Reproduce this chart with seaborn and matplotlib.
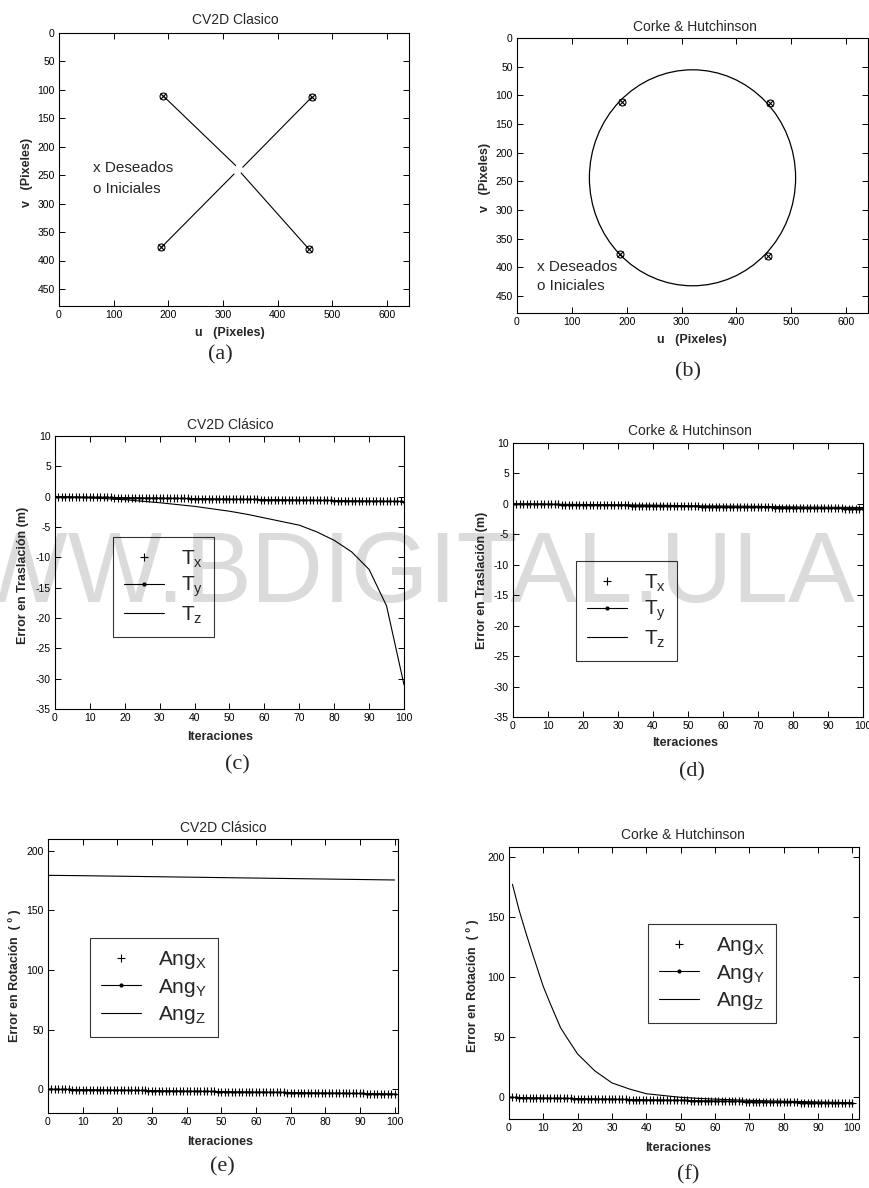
import matplotlib
matplotlib.use("Agg")
import matplotlib.pyplot as plt
from matplotlib.lines import Line2D
from matplotlib.patches import Ellipse
import seaborn as sns

# ---------------- data ----------------
# image-plane points (u, v) in pixels: initial and desired positions coincide
pts_u = [191, 462, 187, 457]
pts_v = [111, 113, 377, 380]
# classic IBVS: each point heads straight for the image centre
traj_end_u = [323, 336, 320, 333]
traj_end_v = [233, 236, 248, 246]
# Corke & Hutchinson: points travel around a circle
circ_center = (320, 244)
circ_w, circ_h = 376, 377

iters = list(range(101))

# translation error, x and y components (overlapping), panels c and d
t_xy = [0.00, -0.01, -0.02, -0.02, -0.03, -0.04, -0.05, -0.06, -0.06, -0.07,
        -0.08, -0.09, -0.10, -0.10, -0.11, -0.12, -0.13, -0.14, -0.14, -0.15,
        -0.16, -0.17, -0.18, -0.18, -0.19, -0.20, -0.21, -0.22, -0.22, -0.23,
        -0.24, -0.25, -0.26, -0.26, -0.27, -0.28, -0.29, -0.30, -0.30, -0.31,
        -0.32, -0.33, -0.34, -0.34, -0.35, -0.36, -0.37, -0.38, -0.38, -0.39,
        -0.40, -0.41, -0.42, -0.42, -0.43, -0.44, -0.45, -0.46, -0.46, -0.47,
        -0.48, -0.49, -0.50, -0.50, -0.51, -0.52, -0.53, -0.54, -0.54, -0.55,
        -0.56, -0.57, -0.58, -0.58, -0.59, -0.60, -0.61, -0.62, -0.62, -0.63,
        -0.64, -0.65, -0.66, -0.66, -0.67, -0.68, -0.69, -0.70, -0.70, -0.71,
        -0.72, -0.73, -0.74, -0.74, -0.75, -0.76, -0.77, -0.78, -0.78, -0.79,
        -0.80]

# z translation, classic IBVS (camera retreat)
tz_c_it = [0, 5, 10, 15, 20, 25, 30, 35, 40, 45, 50, 55, 60, 65, 70, 75, 80, 85, 90, 95, 100]
tz_c = [0.0, -0.1, -0.2, -0.35, -0.5, -0.75, -1.0, -1.3, -1.6, -2.0, -2.4, -2.9,
        -3.5, -4.1, -4.7, -5.8, -7.2, -9.1, -12.0, -18.0, -31.0]
# z translation, Corke & Hutchinson
tz_d_it = [0, 10, 20, 30, 40, 50, 60, 70, 80, 90, 100]
tz_d = [0.0, -0.05, -0.1, -0.15, -0.2, -0.3, -0.35, -0.4, -0.5, -0.55, -0.6]

# rotation error, x and y components, panel e
r_xy_e = [0.0, 0.0, -0.1, -0.1, -0.2, -0.2, -0.2, -0.3, -0.3, -0.4,
          -0.4, -0.4, -0.5, -0.5, -0.6, -0.6, -0.6, -0.7, -0.7, -0.8,
          -0.8, -0.8, -0.9, -0.9, -1.0, -1.0, -1.0, -1.1, -1.1, -1.2,
          -1.2, -1.2, -1.3, -1.3, -1.4, -1.4, -1.4, -1.5, -1.5, -1.6,
          -1.6, -1.6, -1.7, -1.7, -1.8, -1.8, -1.8, -1.9, -1.9, -2.0,
          -2.0, -2.0, -2.1, -2.1, -2.2, -2.2, -2.2, -2.3, -2.3, -2.4,
          -2.4, -2.4, -2.5, -2.5, -2.6, -2.6, -2.6, -2.7, -2.7, -2.8,
          -2.8, -2.8, -2.9, -2.9, -3.0, -3.0, -3.0, -3.1, -3.1, -3.2,
          -3.2, -3.2, -3.3, -3.3, -3.4, -3.4, -3.4, -3.5, -3.5, -3.6,
          -3.6, -3.6, -3.7, -3.7, -3.8, -3.8, -3.8, -3.9, -3.9, -4.0,
          -4.0]
rz_e_it = [0, 10, 20, 30, 40, 50, 60, 70, 80, 90, 100]
rz_e = [179.5, 179.2, 178.8, 178.4, 178.0, 177.6, 177.2, 176.8, 176.4, 176.0, 175.6]

# rotation error, panel f
r_xy_f = [0.0, -0.1, -0.1, -0.2, -0.2, -0.3, -0.3, -0.4, -0.4, -0.5,
          -0.5, -0.6, -0.6, -0.7, -0.7, -0.8, -0.8, -0.9, -0.9, -1.0,
          -1.0, -1.1, -1.1, -1.2, -1.2, -1.3, -1.3, -1.4, -1.4, -1.5,
          -1.5, -1.6, -1.6, -1.7, -1.7, -1.8, -1.8, -1.9, -1.9, -2.0,
          -2.0, -2.1, -2.1, -2.2, -2.2, -2.3, -2.3, -2.4, -2.4, -2.5,
          -2.5, -2.6, -2.6, -2.7, -2.7, -2.8, -2.8, -2.9, -2.9, -3.0,
          -3.0, -3.1, -3.1, -3.2, -3.2, -3.3, -3.3, -3.4, -3.4, -3.5,
          -3.5, -3.6, -3.6, -3.7, -3.7, -3.8, -3.8, -3.9, -3.9, -4.0,
          -4.0, -4.1, -4.1, -4.2, -4.2, -4.3, -4.3, -4.4, -4.4, -4.5,
          -4.5, -4.6, -4.6, -4.7, -4.7, -4.8, -4.8, -4.9, -4.9, -5.0,
          -5.0]
rz_f_it = [1, 3, 5, 7, 10, 12, 15, 17, 20, 25, 30, 35, 40, 45, 50, 55, 60, 70, 80, 90, 100]
rz_f = [177, 155, 136, 118, 92, 78, 58, 49, 36, 22, 12, 7, 3, 1.5, 0.0, -0.8,
        -1.5, -2.5, -3.2, -3.8, -4.5]

titles = ["CV2D Clasico", "Corke & Hutchinson", "CV2D Clásico",
          "Corke & Hutchinson", "CV2D Clásico", "Corke & Hutchinson"]
letters = ["(a)", "(b)", "(c)", "(d)", "(e)", "(f)"]
trans_labels = ["T$_x$", "T$_y$", "T$_z$"]
rot_labels = ["Ang$_X$", "Ang$_Y$", "Ang$_Z$"]

# ---------------- style ----------------
sns.set_style("ticks")
plt.rcParams["font.family"] = ["Liberation Sans", "DejaVu Sans"]
plt.rcParams["mathtext.default"] = "regular"
plt.rcParams["axes.unicode_minus"] = False

W, H = 870, 1188
fig = plt.figure(figsize=(W / 100, H / 100), dpi=100)
fig.patch.set_facecolor("white")


def fx(px):
    return px / W


def fy(py):
    return 1 - py / H


def add_axes(left, top, right, bottom):
    ax = fig.add_axes([fx(left), fy(bottom), (right - left) / W, (bottom - top) / H])
    ax.set_facecolor("none")
    for s in ax.spines.values():
        s.set_color("black")
        s.set_linewidth(0.8)
        s.set_visible(True)
    ax.tick_params(direction="in", top=True, right=True, length=4, width=0.7,
                   labelsize=7.5, colors="black", pad=3)
    return ax


def put(px, py, s, **kw):
    fig.text(fx(px), fy(py), s, ha="center", va="center", **kw)


lab_kw = dict(fontsize=9, fontweight="bold")
letter_kw = dict(fontsize=16, family=["Liberation Serif", "DejaVu Serif"])

# faint watermark across the middle of the page
wm_kw = dict(fontsize=72, color="#dbdbdb", va="baseline", zorder=-5)
fig.text(fx(185), fy(602), "WWW.", ha="right", **wm_kw)
fig.text(fx(185), fy(602), "BDIGITAL.ULA", ha="left", **wm_kw)

# ---------------- (a) image trajectories, classic ----------------
axa = add_axes(59, 33, 409, 306)
for u0, v0, u1, v1 in zip(pts_u, pts_v, traj_end_u, traj_end_v):
    sns.lineplot(x=[u0, u1], y=[v0, v1], ax=axa, color="black", lw=0.8,
                 sort=False, estimator=None, legend=False)
axa.plot(pts_u, pts_v, "o", mfc="none", mec="black", ms=5, mew=0.8)
axa.plot(pts_u, pts_v, "x", color="black", ms=4, mew=0.8)
axa.set_xlim(0, 640)
axa.set_ylim(480, 0)
axa.set_xticks(range(0, 601, 100))
axa.set_yticks(range(0, 451, 50))
axa.text(62, 238, "x Deseados", fontsize=11, va="center")
axa.text(62, 275, "o Iniciales", fontsize=11, va="center")

# ---------------- (b) image trajectories, Corke & Hutchinson ----------------
axb = add_axes(517, 38, 868, 313)
axb.add_patch(Ellipse(circ_center, circ_w, circ_h, fill=False, ec="black", lw=0.9))
axb.plot(pts_u, pts_v, "o", mfc="none", mec="black", ms=5, mew=0.8)
axb.plot(pts_u, pts_v, "x", color="black", ms=4, mew=0.8)
axb.set_xlim(0, 640)
axb.set_ylim(480, 0)
axb.set_xticks(range(0, 601, 100))
axb.set_yticks(range(0, 451, 50))
axb.text(36, 400, "x Deseados", fontsize=11, va="center")
axb.text(36, 433, "o Iniciales", fontsize=11, va="center")


def error_series(ax, xy_vals, z_it, z_vals):
    sns.lineplot(x=iters, y=xy_vals, ax=ax, color="black", marker="+",
                 linestyle="none", markersize=6, markeredgewidth=0.8,
                 markeredgecolor="black", sort=False, estimator=None, legend=False)
    sns.lineplot(x=iters, y=xy_vals, ax=ax, color="black", marker=".", lw=0.8,
                 markersize=3, markeredgewidth=0.5, markeredgecolor="black",
                 sort=False, estimator=None, legend=False)
    sns.lineplot(x=z_it, y=z_vals, ax=ax, color="black", lw=0.8,
                 sort=False, estimator=None, legend=False)
    ax.set_xlabel("")
    ax.set_ylabel("")


def add_legend(ax, labels, left, top):
    handles = [
        Line2D([], [], color="black", marker="+", linestyle="none", ms=6, mew=0.8),
        Line2D([], [], color="black", marker=".", lw=0.8, ms=4),
        Line2D([], [], color="black", lw=0.8),
    ]
    leg = ax.legend(handles, labels, loc="upper left",
                    bbox_to_anchor=(fx(left), fy(top)), bbox_transform=fig.transFigure,
                    borderaxespad=0, fontsize=15, handlelength=1.9, handletextpad=0.8,
                    labelspacing=0.25, borderpad=0.55, fancybox=False,
                    frameon=True, edgecolor="black", facecolor="none", framealpha=None)
    leg.get_frame().set_linewidth(0.8)


# ---------------- (c) translation error, classic ----------------
axc = add_axes(55, 436, 404, 709)
error_series(axc, t_xy, tz_c_it, tz_c)
axc.set_xlim(0, 100)
axc.set_ylim(-35, 10)
axc.set_xticks(range(0, 101, 10))
axc.set_yticks(range(-35, 11, 5))
add_legend(axc, trans_labels, 113, 537)

# ---------------- (d) translation error, Corke & Hutchinson ----------------
axd = add_axes(513, 443, 863, 717)
error_series(axd, t_xy, tz_d_it, tz_d)
axd.set_xlim(0, 100)
axd.set_ylim(-35, 10)
axd.set_xticks(range(0, 101, 10))
axd.set_yticks(range(-35, 11, 5))
add_legend(axd, trans_labels, 576, 561)

# ---------------- (e) rotation error, classic ----------------
axe = add_axes(48, 839, 398, 1113)
error_series(axe, r_xy_e, rz_e_it, rz_e)
axe.set_xlim(0, 101)
axe.set_ylim(-20, 210)
axe.set_xticks(range(0, 101, 10))
axe.set_yticks(range(0, 201, 50))
add_legend(axe, rot_labels, 90, 938)

# ---------------- (f) rotation error, Corke & Hutchinson ----------------
axf = add_axes(509, 847, 859, 1119)
error_series(axf, r_xy_f, rz_f_it, rz_f)
axf.set_xlim(0, 102)
axf.set_ylim(-18, 208)
axf.set_xticks(range(0, 101, 10))
axf.set_yticks(range(0, 201, 50))
add_legend(axf, rot_labels, 648, 924)

# ---------------- titles, axis labels, panel letters ----------------
title_pos = [(235, 20), (695, 27), (230, 425), (690, 431), (223, 828), (683, 835)]
letter_pos = [(220, 355), (688, 372), (237, 765), (692, 772), (222, 1167), (688, 1175)]
for t, (x, y) in zip(titles, title_pos):
    put(x, y, t, fontsize=10)
for t, (x, y) in zip(letters, letter_pos):
    put(x, y, t, **letter_kw)

xlab = [("u   (Pixeles)", 230, 333), ("u   (Pixeles)", 692, 340),
        ("Iteraciones", 220, 737), ("Iteraciones", 685, 743),
        ("Iteraciones", 220, 1142), ("Iteraciones", 678, 1148)]
ylab = [("v   (Pixeles)", 27, 172), ("v   (Pixeles)", 485, 177),
        ("Error en Traslación (m)", 23, 575), ("Error en Traslación (m)", 482, 580),
        ("Error en Rotación  ( º )", 15, 976), ("Error en Rotación  ( º )", 473, 986)]
for t, x, y in xlab:
    put(x, y, t, **lab_kw)
for t, x, y in ylab:
    put(x, y, t, rotation=90, **lab_kw)

fig.savefig("out.png", dpi=100, facecolor="white")
